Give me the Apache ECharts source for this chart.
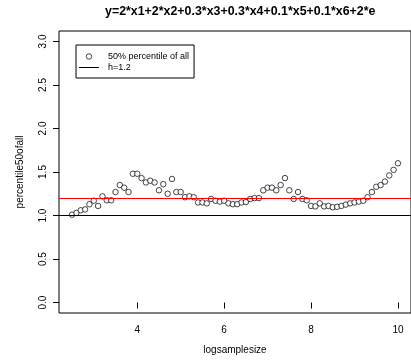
<!DOCTYPE html>
<html>
<head>
<meta charset="utf-8">
<script src="https://cdn.jsdelivr.net/npm/echarts@6/dist/echarts.min.js"></script>
<style>html,body{margin:0;padding:0;background:#fff;}#c{width:411px;height:360px;}</style>
</head>
<body>
<div id="c"></div>
<script>
const titleText = 'y=2*x1+2*x2+0.3*x3+0.3*x4+0.1*x5+0.1*x6+2*e';
const xName = 'logsamplesize';
const yName = 'percentile50ofall';
const seriesName = '50% percentile of all';
const lineName = 'h=1.2';
const xValues = [2.5,2.6,2.7,2.8,2.9,3.0,3.1,3.2,3.3,3.4,3.5,3.6,3.7,3.8,3.9,4.0,4.1,4.2,4.3,4.4,
  4.5,4.6,4.7,4.8,4.9,5.0,5.1,5.2,5.3,5.4,5.5,5.6,5.7,5.8,5.9,6.0,6.1,6.2,6.3,6.4,
  6.5,6.6,6.7,6.8,6.9,7.0,7.1,7.2,7.3,7.4,7.5,7.6,7.7,7.8,7.9,8.0,8.1,8.2,8.3,8.4,
  8.5,8.6,8.7,8.8,8.9,9.0,9.1,9.2,9.3,9.4,9.5,9.6,9.7,9.8,9.9,10.0];
const percentile50 = [1.01,1.03,1.06,1.07,1.13,1.17,1.11,1.22,1.175,1.175,1.27,1.35,1.32,1.27,1.48,1.48,1.43,1.38,1.40,1.38,
  1.29,1.36,1.25,1.42,1.27,1.27,1.21,1.22,1.21,1.15,1.15,1.14,1.19,1.17,1.16,1.17,1.14,1.13,1.13,1.15,
  1.155,1.19,1.20,1.20,1.29,1.32,1.32,1.29,1.35,1.43,1.29,1.19,1.27,1.19,1.175,1.11,1.105,1.14,1.105,1.11,
  1.095,1.10,1.11,1.125,1.14,1.15,1.16,1.17,1.21,1.27,1.33,1.35,1.39,1.46,1.525,1.60];
const redLevel = 1.2;
const blackLevel = 1.0;
const xTicks = [4, 6, 8, 10];
const xTickLabels = ['4', '6', '8', '10'];
const yTicks = [0, 0.5, 1, 1.5, 2, 2.5, 3];
const yTickLabels = ['0.0', '0.5', '1.0', '1.5', '2.0', '2.5', '3.0'];

const font = 'Liberation Sans, Arial, Helvetica, sans-serif';
const chart = echarts.init(document.getElementById('c'), null, {renderer: 'canvas'});
const points = xValues.map((x, i) => [x, percentile50[i]]);

chart.setOption({
  animation: false,
  backgroundColor: '#fff',
  title: {
    text: titleText,
    left: 105, top: 6, padding: 0,
    textStyle: {fontFamily: font, fontSize: 12.4, fontWeight: 'bold', color: '#000'}
  },
  legend: {
    orient: 'vertical',
    left: 76, top: 45,
    padding: [6, 5, 5, 3],
    itemGap: 0,
    itemWidth: 20, itemHeight: 5.5,
    borderColor: '#000', borderWidth: 1, borderRadius: 0,
    textStyle: {fontFamily: font, fontSize: 9, lineHeight: 11, color: '#000', padding: [0, 0, 0, 4]},
    data: [
      {name: seriesName, icon: 'circle', itemStyle: {color: '#fff', borderColor: '#000', borderWidth: 0.9}},
      {name: lineName, icon: 'path://M0,0L20,0L20,1L0,1Z', itemStyle: {color: '#000', borderWidth: 0}}
    ]
  },
  grid: {
    left: 59, top: 31, width: 355, height: 283,
    show: true, borderColor: '#000', borderWidth: 1, backgroundColor: 'transparent'
  },
  xAxis: {
    type: 'value', min: 2.2, max: 10.3,
    name: xName, nameLocation: 'middle', nameGap: 32,
    nameTextStyle: {fontFamily: font, fontSize: 10, color: '#000'},
    axisLine: {show: false},
    splitLine: {show: false},
    axisTick: {show: true, length: 6, customValues: xTicks, lineStyle: {color: '#000'}},
    axisLabel: {
      customValues: xTicks, margin: 12,
      fontFamily: font, fontSize: 10, color: '#000',
      formatter: v => xTickLabels[xTicks.indexOf(v)]
    }
  },
  yAxis: {
    type: 'value', min: -0.12, max: 3.12,
    name: yName, nameLocation: 'middle', nameGap: 34, nameRotate: 90,
    nameTextStyle: {fontFamily: font, fontSize: 10, color: '#000'},
    axisLine: {show: false},
    splitLine: {show: false},
    axisTick: {show: true, length: 6, customValues: yTicks, lineStyle: {color: '#000'}},
    axisLabel: {
      customValues: yTicks, rotate: 90, margin: 11,
      fontFamily: font, fontSize: 10, color: '#000',
      formatter: v => yTickLabels[yTicks.indexOf(v)]
    }
  },
  series: [
    {
      name: seriesName,
      type: 'scatter',
      symbol: 'circle',
      symbolSize: 5.5,
      itemStyle: {color: '#fff', borderColor: '#000', borderWidth: 0.9},
      data: points,
      markLine: {
        silent: true, symbol: 'none', label: {show: false},
        lineStyle: {color: '#ff0000', width: 1, type: 'solid'},
        data: [{yAxis: redLevel}]
      }
    },
    {
      name: lineName,
      type: 'line',
      symbol: 'none',
      lineStyle: {color: '#000', width: 1},
      itemStyle: {color: '#000'},
      data: [],
      markLine: {
        silent: true, symbol: 'none', label: {show: false},
        lineStyle: {color: '#000', width: 1, type: 'solid'},
        data: [{yAxis: blackLevel}]
      }
    }
  ]
});
</script>
</body>
</html>
